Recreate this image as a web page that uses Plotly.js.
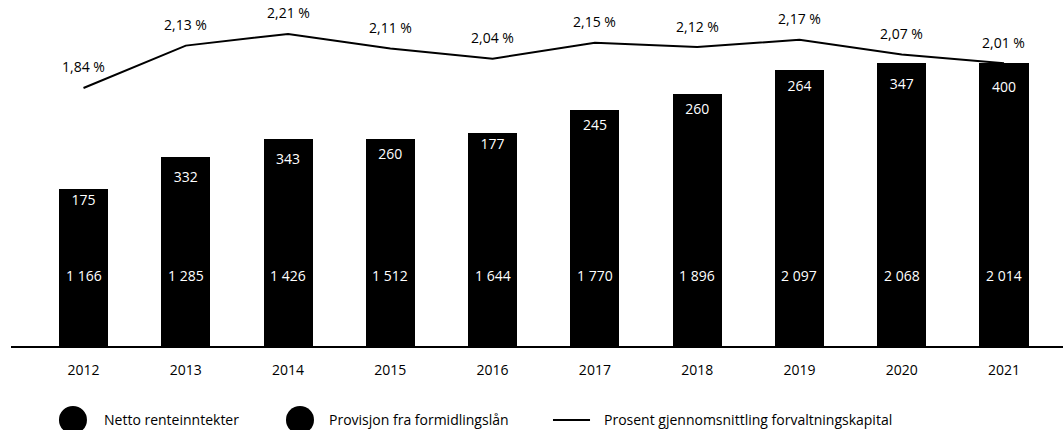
<!DOCTYPE html>
<html>
<head>
<meta charset="utf-8">
<script src="https://cdn.plot.ly/plotly-3.0.1.min.js"></script>
<style>html,body{margin:0;padding:0;background:#fff;}#chart{width:1063px;height:430px;}</style>
</head>
<body>
<div id="chart"></div>
<script>
const years = ['2012','2013','2014','2015','2016','2017','2018','2019','2020','2021'];
const nettoRenteinntekter = [1166,1285,1426,1512,1644,1770,1896,2097,2068,2014];
const provisjon = [175,332,343,260,177,245,260,264,347,400];
const prosent = [1.84,2.13,2.21,2.11,2.04,2.15,2.12,2.17,2.07,2.01];
const seriesNames = ['Netto renteinntekter','Provisjon fra formidlingslån','Prosent gjennomsnittling forvaltningskapital'];

const FONT = 'Open Sans, sans-serif';
function fmtThousands(v){ return String(v).replace(/\B(?=(\d{3})+(?!\d))/g, ' '); }
function fmtPct(v){ return v.toFixed(2).replace('.', ',') + ' %'; }

const traces = [
  {type:'bar', x:years, y:nettoRenteinntekter, name:seriesNames[0], marker:{color:'#000', line:{width:0}}, width:0.48, showlegend:false, hoverinfo:'skip'},
  {type:'bar', x:years, y:provisjon, name:seriesNames[1], marker:{color:'#000', line:{width:0}}, width:0.48, showlegend:false,
   text:provisjon.map(String), textposition:'inside', insidetextanchor:'middle', textangle:0, constraintext:'none',
   textfont:{family:FONT, size:14, color:'#fff'}, hoverinfo:'skip'},
  {type:'scatter', mode:'lines', x:years, y:prosent, yaxis:'y2', name:seriesNames[2], line:{color:'#000', width:2}, showlegend:false, hoverinfo:'skip'}
];

const annotations = [];
years.forEach((yr,i)=>{
  annotations.push({x:i, y:600, xref:'x', yref:'y', text:fmtThousands(nettoRenteinntekter[i]), showarrow:false,
    font:{family:FONT, size:14, color:'#fff'}});
  annotations.push({x:i, y:prosent[i], xref:'x', yref:'y2', text:fmtPct(prosent[i]), showarrow:false, yshift:21,
    font:{family:FONT, size:14, color:'#000'}});
});
// custom legend
const legY = -0.22;
annotations.push({x:0.0865, y:legY, xref:'paper', yref:'paper', xanchor:'left', yanchor:'middle', text:seriesNames[0], showarrow:false, font:{family:FONT, size:14, color:'#000'}});
annotations.push({x:0.3004, y:legY, xref:'paper', yref:'paper', xanchor:'left', yanchor:'middle', text:seriesNames[1], showarrow:false, font:{family:FONT, size:14, color:'#000'}});
annotations.push({x:0.5618, y:legY, xref:'paper', yref:'paper', xanchor:'left', yanchor:'middle', text:seriesNames[2], showarrow:false, font:{family:FONT, size:14, color:'#000'}});

const shapes = [
  {type:'circle', xref:'paper', yref:'paper', xsizemode:'pixel', ysizemode:'pixel', xanchor:0.0589, yanchor:legY, x0:-14, x1:14, y0:-14, y1:14, fillcolor:'#000', line:{width:0}},
  {type:'circle', xref:'paper', yref:'paper', xsizemode:'pixel', ysizemode:'pixel', xanchor:0.2747, yanchor:legY, x0:-14, x1:14, y0:-14, y1:14, fillcolor:'#000', line:{width:0}},
  {type:'line', xref:'paper', yref:'paper', x0:0.5152, x1:0.5504, y0:legY, y1:legY, line:{color:'#000', width:2}}
];

const layout = {
  width:1063, height:430,
  margin:{l:11, r:0, t:10, b:84},
  paper_bgcolor:'#fff', plot_bgcolor:'#fff',
  barmode:'stack',
  showlegend:false,
  font:{family:FONT, color:'#000'},
  xaxis:{type:'category', range:[-0.709, 9.577], showgrid:false, zeroline:false, showline:true, linecolor:'#000', linewidth:1.5,
    ticks:'outside', ticklen:11, tickcolor:'rgba(0,0,0,0)', tickfont:{family:FONT, size:14, color:'#000'}, fixedrange:true},
  yaxis:{range:[0, 2870], visible:false, fixedrange:true},
  yaxis2:{range:[0.073, 2.374], overlaying:'y', side:'right', visible:false, fixedrange:true},
  annotations:annotations,
  shapes:shapes
};

Plotly.newPlot('chart', traces, layout, {displayModeBar:false, staticPlot:true});
</script>
</body>
</html>
